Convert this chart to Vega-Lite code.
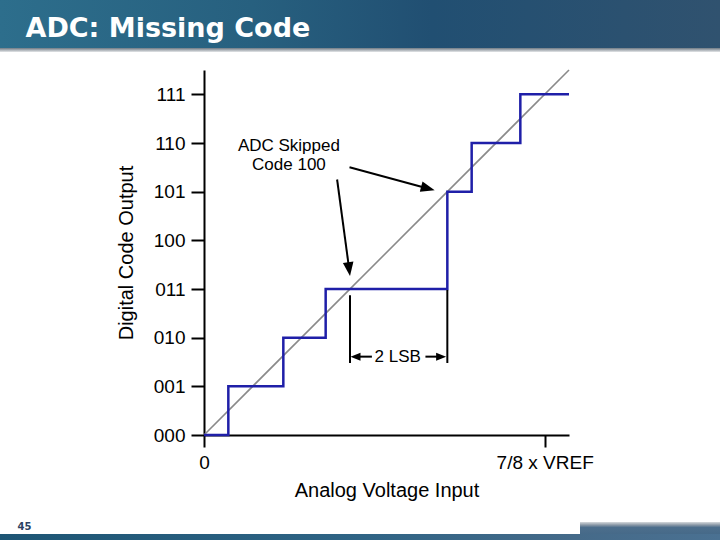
{
  "$schema": "https://vega.github.io/schema/vega-lite/v6.json",
  "padding": 0,
  "background": "white",
  "spacing": 14,
  "config": {
    "view": {"stroke": null},
    "font": "Liberation Sans",
    "axis": {"domainColor": "black", "tickColor": "black", "labelColor": "black", "titleColor": "black", "grid": false}
  },
  "vconcat": [
    {
      "spacing": 0,
      "vconcat": [
        {
          "width": 720,
          "height": 48,
          "view": {
            "stroke": null,
            "fill": {"gradient": "linear", "x1": 0, "x2": 1, "y1": 0, "y2": 0,
              "stops": [
                {"offset": 0, "color": "#2d6e8c"},
                {"offset": 0.35, "color": "#27607f"},
                {"offset": 0.6, "color": "#214f72"},
                {"offset": 1, "color": "#30526f"}
              ]}
          },
          "data": {"values": []},
          "mark": {"type": "point", "opacity": 0},
          "encoding": {
            "x": {"datum": 0, "type": "quantitative", "scale": {"domain": [0, 1]},
              "axis": {"orient": "bottom", "domain": false, "ticks": false, "labels": false, "grid": false,
                "title": "ADC: Missing Code", "titleX": 25, "titleY": -12, "titleAlign": "left", "titleAnchor": "start", "titleBaseline": "alphabetic",
                "titleFontSize": 27, "titleFont": "DejaVu Sans", "titleFontWeight": "bold", "titleColor": "white"}}
          }
        },
        {
          "width": 720,
          "height": 4,
          "view": {
            "stroke": null,
            "fill": {"gradient": "linear", "x1": 0, "x2": 0, "y1": 0, "y2": 1,
              "stops": [
                {"offset": 0, "color": "#6f7a84"},
                {"offset": 1, "color": "#e4e6e8"}
              ]}
          },
          "data": {"values": []},
          "mark": "point"
        }
      ]
    },
    {
      "spacing": 21,
      "vconcat": [
        {
          "spacing": 0,
          "hconcat": [
            {"width": 116, "height": 365, "data": {"values": []}, "mark": "point"},
            {
              "width": 365,
              "height": 365,
              "encoding": {
                "x": {"field": "x", "type": "quantitative", "scale": {"domain": [0, 7.5], "nice": false, "zero": false},
                  "axis": {"values": [0, 7], "labelExpr": "datum.value == 0 ? '0' : '7/8 x VREF'", "tickSize": 12, "tickWidth": 2, "domainWidth": 2, "labelPadding": 6, "labelFontSize": 19, "labelFlush": false, "labelOverlap": false, "title": "Analog Voltage Input", "titleFontSize": 20, "titleFontWeight": "normal", "titlePadding": 8}},
                "y": {"field": "y", "type": "quantitative", "scale": {"domain": [0, 7.5], "nice": false, "zero": false},
                  "axis": {"values": [0, 1, 2, 3, 4, 5, 6, 7], "labelExpr": "['000','001','010','011','100','101','110','111'][datum.value]", "tickSize": 13, "tickWidth": 2, "domainWidth": 2, "labelPadding": 6, "labelFontSize": 19, "labelFlush": false, "labelOverlap": false, "title": "Digital Code Output", "titleFontSize": 20, "titleFontWeight": "normal", "titlePadding": 17}}
              },
              "layer": [
                {
                  "data": {"values": [{"x": 0, "y": 0}, {"x": 7.5, "y": 7.5}]},
                  "mark": {"type": "line", "color": "#8a8a8a", "strokeWidth": 1.6}
                },
                {
                  "data": {"values": [
                    {"x": 0, "y": 0}, {"x": 0.5, "y": 1}, {"x": 1.63, "y": 2}, {"x": 2.5, "y": 3},
                    {"x": 5.0, "y": 5}, {"x": 5.5, "y": 6}, {"x": 6.5, "y": 7}, {"x": 7.5, "y": 7}
                  ]},
                  "mark": {"type": "line", "interpolate": "step-after", "color": "#1f1fa8", "strokeWidth": 2.5}
                },
                {
                  "data": {"values": [
                    {"x": 2.735, "y": 5.25, "x2": 2.98, "y2": 3.43},
                    {"x": 2.99, "y": 5.5, "x2": 4.58, "y2": 5.07},
                    {"x": 3.0, "y": 2.87, "x2": 3.0, "y2": 1.48},
                    {"x": 5.0, "y": 2.98, "x2": 5.0, "y2": 1.48},
                    {"x": 3.12, "y": 1.61, "x2": 3.45, "y2": 1.61},
                    {"x": 4.55, "y": 1.61, "x2": 4.86, "y2": 1.61}
                  ]},
                  "mark": {"type": "rule", "color": "black", "strokeWidth": 2},
                  "encoding": {"x2": {"field": "x2"}, "y2": {"field": "y2"}}
                },
                {
                  "data": {"values": [{"x": 3.0, "y": 3.265}]},
                  "mark": {"type": "point", "filled": true, "color": "black", "opacity": 1, "strokeWidth": 0, "size": 784, "shape": "M0,0L-0.38,1L0.38,1Z", "angle": 172.5}
                },
                {
                  "data": {"values": [{"x": 4.74, "y": 5.03}]},
                  "mark": {"type": "point", "filled": true, "color": "black", "opacity": 1, "strokeWidth": 0, "size": 784, "shape": "M0,0L-0.38,1L0.38,1Z", "angle": 104.9}
                },
                {
                  "data": {"values": [{"x": 3.01, "y": 1.61}]},
                  "mark": {"type": "point", "filled": true, "color": "black", "opacity": 1, "strokeWidth": 0, "size": 400, "shape": "M0,0L-0.4,1L0.4,1Z", "angle": 270}
                },
                {
                  "data": {"values": [{"x": 4.975, "y": 1.61}]},
                  "mark": {"type": "point", "filled": true, "color": "black", "opacity": 1, "strokeWidth": 0, "size": 400, "shape": "M0,0L-0.4,1L0.4,1Z", "angle": 90}
                },
                {
                  "data": {"values": [
                    {"x": 1.745, "y": 5.94, "label": "ADC Skipped"},
                    {"x": 1.745, "y": 5.54, "label": "Code 100"},
                    {"x": 3.98, "y": 1.61, "label": "2 LSB"}
                  ]},
                  "mark": {"type": "text", "fontSize": 17, "color": "black", "align": "center", "baseline": "middle"},
                  "encoding": {"text": {"field": "label"}}
                }
              ]
            }
          ]
        },
        {
          "spacing": 0,
          "vconcat": [
            {
              "spacing": 0,
              "hconcat": [
                {
                  "width": 580,
                  "height": 12,
                  "data": {"values": []},
                  "mark": {"type": "point", "opacity": 0},
                  "encoding": {
                    "x": {"datum": 0, "type": "quantitative", "scale": {"domain": [0, 1]},
                      "axis": {"orient": "bottom", "domain": false, "ticks": false, "labels": false, "grid": false,
                        "title": "45", "titleX": 17, "titleY": -5, "titleAlign": "left", "titleAnchor": "start", "titleBaseline": "alphabetic",
                        "titleFontSize": 10, "titleFont": "DejaVu Sans", "titleFontWeight": "bold", "titleColor": "#2b4262"}}
                  }
                },
                {
                  "width": 140,
                  "height": 12,
                  "view": {
                    "stroke": null,
                    "fill": {"gradient": "linear", "x1": 0, "x2": 0, "y1": 0, "y2": 1,
                      "stops": [
                        {"offset": 0, "color": "#d6d9dc"},
                        {"offset": 0.25, "color": "#8a98a6"},
                        {"offset": 0.45, "color": "#4d6e8c"},
                        {"offset": 1, "color": "#466a89"}
                      ]}
                  },
                  "data": {"values": []},
                  "mark": "point"
                }
              ]
            },
            {
              "width": 720,
              "height": 7,
              "view": {
                "stroke": null,
                "fill": {"gradient": "linear", "x1": 0, "x2": 1, "y1": 0, "y2": 0,
                  "stops": [
                    {"offset": 0, "color": "#1d5574"},
                    {"offset": 0.5, "color": "#2f6485"},
                    {"offset": 0.8, "color": "#456a89"},
                    {"offset": 1, "color": "#4a7192"}
                  ]}
              },
              "data": {"values": []},
              "mark": "point"
            }
          ]
        }
      ]
    }
  ]
}
